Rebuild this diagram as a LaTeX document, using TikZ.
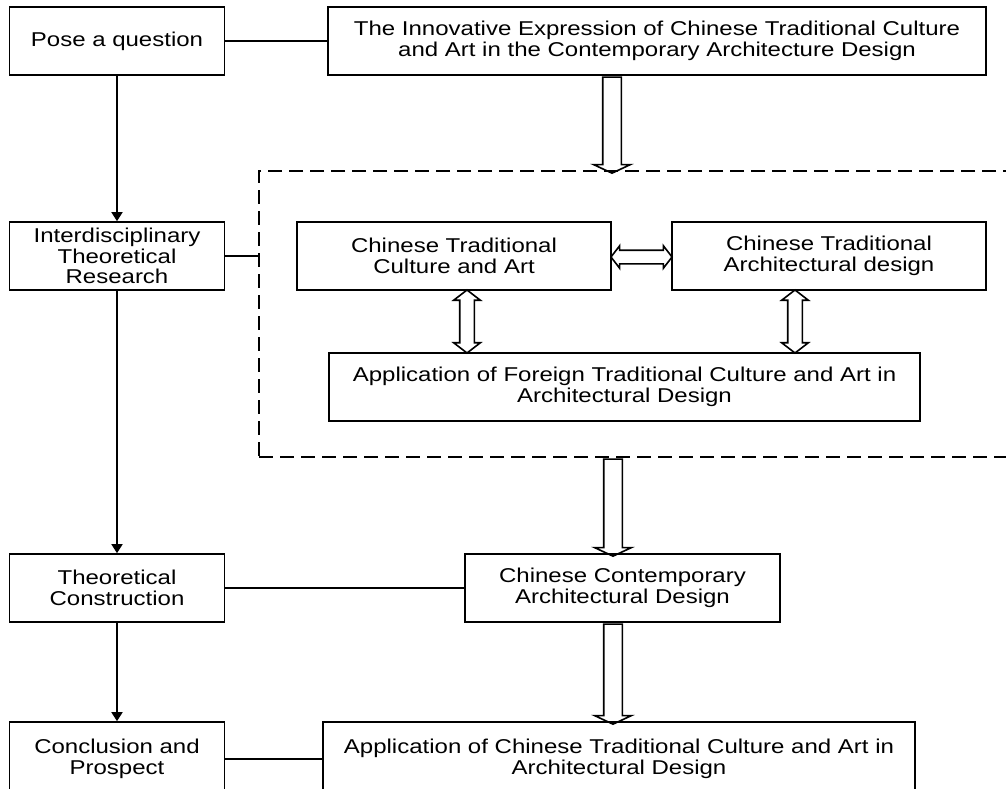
\documentclass[tikz,border=0pt]{standalone}
\usepackage{fontspec}
\setmainfont{Liberation Sans}[FakeStretch=1.2]
\usetikzlibrary{arrows.meta, shapes.arrows}

\begin{document}
\begin{tikzpicture}[x=1pt, y=-1pt,
    box/.style={draw, rectangle, line width=1.6pt, align=center, inner sep=0pt,
        minimum height=68pt, font=\fontsize{20}{20.5}\selectfont},
    link/.style={line width=1.6pt},
    flow/.style={line width=1.6pt, -{Triangle[length=9pt, width=11pt]}},
    bigarrow/.style={draw, single arrow, line width=1.6pt, inner sep=8.5pt,
        single arrow head extend=9pt, single arrow tip angle=130,
        shape border rotate=270},
    dblarrow/.style={draw, double arrow, line width=1.6pt, inner sep=6.5pt,
        double arrow head extend=6pt, double arrow tip angle=105}]
    \def \lw {215pt}
    \def \lx {117}

    \useasboundingbox (0,0) rectangle (1006,789);
    \clip (0,0) rectangle (1006,789);

    \node[box, minimum width=\lw] (pose) at (\lx,41) {Pose a question};
    \node[box, minimum width=\lw] (inter) at (\lx,256) {Interdisciplinary\\Theoretical\\Research};
    \node[box, minimum width=\lw] (theo) at (\lx,588) {Theoretical\\Construction};
    \node[box, minimum width=\lw, minimum height=74pt] (concl) at (\lx,759) {Conclusion and\\Prospect};

    \node[box, minimum width=658pt] (innov) at (657,41)
        {The Innovative Expression of Chinese Traditional Culture\\and Art in the Contemporary Architecture Design};
    \node[draw, dashed, line width=1.6pt, dash pattern=on 14pt off 7pt,
        minimum width=761pt, minimum height=286pt] (frame) at (639.5,314) {};
    \node[box, minimum width=314pt] (ctca) at (454,256) {Chinese Traditional\\Culture and Art};
    \node[box, minimum width=314pt] (ctad) at (829,256) {Chinese Traditional\\Architectural design};
    \node[box, minimum width=591pt] (foreign) at (624.5,387)
        {Application of Foreign Traditional Culture and Art in\\Architectural Design};
    \node[box, minimum width=315pt] (ccad) at (622.5,588) {Chinese Contemporary\\Architectural Design};
    \node[box, minimum width=592pt, minimum height=74pt] (appl) at (619,759)
        {Application of Chinese Traditional Culture and Art in\\Architectural Design};

    \draw[flow] (pose) -- (inter);
    \draw[flow] (inter) -- (theo);
    \draw[flow] (theo) -- (concl);
    \draw[link] (pose) -- (innov);
    \draw[link] (inter.east) -- (inter.east -| frame.west);
    \draw[link] (theo) -- (ccad);
    \draw[link] (concl.east |- appl) -- (appl);

    \node[bigarrow, minimum height=96pt] (down1) at (612,123) {};
    \node[bigarrow, minimum height=97pt] (down2) at (613,505.5) {};
    \node[bigarrow, minimum height=100pt] (down3) at (613,672) {};

    \node[dblarrow, minimum height=61pt, inner sep=6pt, double arrow head extend=4.5pt] (across) at (641.5,257) {};
    \foreach \x [count=\s] in {467, 795}
    {
        \node[dblarrow, minimum height=63pt, shape border rotate=90] (updown\s) at (\x,321.5) {};
    }
\end{tikzpicture}
\end{document}
